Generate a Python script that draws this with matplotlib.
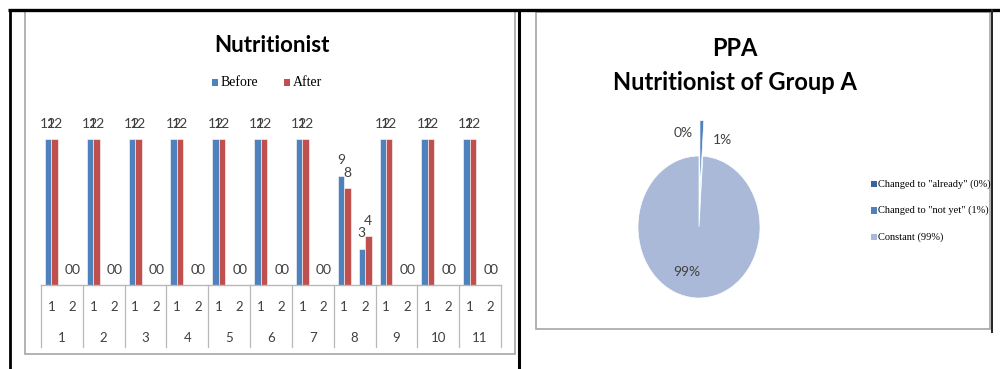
import matplotlib
matplotlib.use("Agg")
import matplotlib.pyplot as plt
from matplotlib.patches import Rectangle

# ---- data: bar chart -------------------------------------------------------
groups = ["1", "2", "3", "4", "5", "6", "7", "8", "9", "10", "11"]
subcats = ["1", "2"]
series_names = ["Before", "After"]
before_sub1 = [12, 12, 12, 12, 12, 12, 12, 9, 12, 12, 12]
after_sub1 = [12, 12, 12, 12, 12, 12, 12, 8, 12, 12, 12]
before_sub2 = [0, 0, 0, 0, 0, 0, 0, 3, 0, 0, 0]
after_sub2 = [0, 0, 0, 0, 0, 0, 0, 4, 0, 0, 0]
bar_colors = ["#4F81BD", "#C0504D"]

# ---- data: pie chart -------------------------------------------------------
pie_names = ['Changed to "already"', 'Changed to "not yet"', "Constant"]
pie_values = [0, 1, 99]
pie_colors = ["#37649A", "#4F81BD", "#AAB9D7"]

W, H = 1000, 369
fig = plt.figure(figsize=(W / 100, H / 100), dpi=100)
fig.patch.set_facecolor("white")

sans = ["Lato", "DejaVu Sans"]
serif = ["Liberation Serif", "DejaVu Serif"]
label_gray = "#404040"


def fx(px):
    return px / W


def fy(py):
    return 1 - py / H


# ---- bar chart axes --------------------------------------------------------
base_px, top_px = 285, 120
left_px, right_px = 41, 501
unit_px = 12.14
ax = fig.add_axes([fx(left_px), fy(base_px), (right_px - left_px) / W,
                   (base_px - top_px) / H])
n_slots = len(groups) * len(subcats)
ax.set_xlim(0, n_slots)
ax.set_ylim(0, (base_px - top_px) / unit_px)
ax.axis("off")

bw = 0.31
series = [
    (before_sub1, before_sub2),
    (after_sub1, after_sub2),
]
for si, (vals1, vals2) in enumerate(series):
    off = (si - 0.5) * bw
    for gi in range(len(groups)):
        for sj, vals in enumerate((vals1, vals2)):
            xc = gi * 2 + sj + 0.5 + off
            v = vals[gi]
            ax.bar(xc, v, width=bw, color=bar_colors[si], edgecolor="white",
                   linewidth=0.4, zorder=2)
            ax.annotate(f"{v}", (xc, v), xytext=(0, 11),
                        textcoords="offset points", ha="center", va="center",
                        fontsize=10, color=label_gray, family=sans,
                        annotation_clip=False)

# category table under the plot
tr = ax.get_xaxis_transform()
line_gray = "#B8B8B8"
table_bottom = -(347 - base_px) / (base_px - top_px)
ax.plot([0, n_slots], [0, 0], transform=tr, color=line_gray, lw=1.0,
        clip_on=False, zorder=3)
for gi in range(len(groups) + 1):
    ax.plot([gi * 2, gi * 2], [0, table_bottom], transform=tr,
            color=line_gray, lw=0.9, clip_on=False)
sub_y = -(307 - base_px) / (base_px - top_px)
grp_y = -(338 - base_px) / (base_px - top_px)
for gi, g in enumerate(groups):
    for sj, s in enumerate(subcats):
        ax.text(gi * 2 + sj + 0.5, sub_y, s, transform=tr, ha="center",
                va="center", fontsize=9.5, color=label_gray, family=sans)
    ax.text(gi * 2 + 1, grp_y, g, transform=tr, ha="center", va="center",
            fontsize=9.5, color=label_gray, family=sans)

fig.text(fx(272), fy(45), "Nutritionist", ha="center", va="center",
         fontsize=16, fontweight="bold", family=sans, color="black")

# ---- pie chart axes --------------------------------------------------------
cx, cy, rx, ry = 699, 227, 61, 71
ext_x, ext_y = 1.5, 1.6
pax = fig.add_axes([fx(cx - rx * ext_x), fy(cy + ry * ext_y),
                    2 * rx * ext_x / W, 2 * ry * ext_y / H])
wedges, _ = pax.pie(pie_values, colors=pie_colors, startangle=90,
                    counterclock=False, explode=[0, 0.5, 0],
                    wedgeprops=dict(edgecolor="white", linewidth=0.5))
pax.set_aspect("auto")
pax.set_xlim(-ext_x, ext_x)
pax.set_ylim(-ext_y, ext_y)
pax.axis("off")

pct_pos = [(-0.26, 1.32), (0.39, 1.23), (-0.2, -0.63)]
for v, (px_, py_) in zip(pie_values, pct_pos):
    pax.text(px_, py_, f"{v}%", ha="center", va="center", fontsize=10,
             color=label_gray, family=sans)

fig.text(fx(735), fy(48), "PPA", ha="center", va="center", fontsize=17,
         fontweight="bold", family=sans, color="black")
fig.text(fx(735), fy(82), "Nutritionist of Group A", ha="center",
         va="center", fontsize=17, fontweight="bold", family=sans,
         color="black")

# ---- overlay in pixel space: frames and legends ---------------------------
ov = fig.add_axes([0, 0, 1, 1], zorder=10)
ov.set_xlim(0, W)
ov.set_ylim(H, 0)
ov.axis("off")
ov.patch.set_alpha(0)

# gray chart frames
frame_gray = "#A6A6A6"
ov.add_patch(Rectangle((25, 11), 490, 343, fill=False, edgecolor=frame_gray,
                       lw=1.2))
ov.add_patch(Rectangle((536, 12), 454, 317, fill=False, edgecolor=frame_gray,
                       lw=1.2))
# black outer rules
ov.plot([8, W], [9.5, 9.5], color="black", lw=2.4, solid_capstyle="butt")
ov.plot([9.5, 9.5], [9, H], color="black", lw=2.0, solid_capstyle="butt")
ov.plot([519, 519], [9, H], color="black", lw=2.2, solid_capstyle="butt")
ov.plot([991.5, 991.5], [9, 333], color="#222222", lw=1.4,
        solid_capstyle="butt")

# bar chart legend
leg_items = [(212, series_names[0], bar_colors[0]),
             (284, series_names[1], bar_colors[1])]
for x0, name, col in leg_items:
    ov.add_patch(Rectangle((x0, 78.5), 6, 7, color=col, lw=0))
    ov.text(x0 + 9, 82, name, ha="left", va="center", fontsize=10,
            family=serif, color="black")

# pie legend
for i, (name, v, col) in enumerate(zip(pie_names, pie_values, pie_colors)):
    yc = 184 + i * 26.5
    ov.add_patch(Rectangle((871, yc - 3.5), 5.5, 6.5, color=col, lw=0))
    ov.text(878.5, yc, f"{name} ({v}%)", ha="left", va="center",
            fontsize=7.5, family=serif, color="black")

fig.savefig("out.png", dpi=100, facecolor="white")
